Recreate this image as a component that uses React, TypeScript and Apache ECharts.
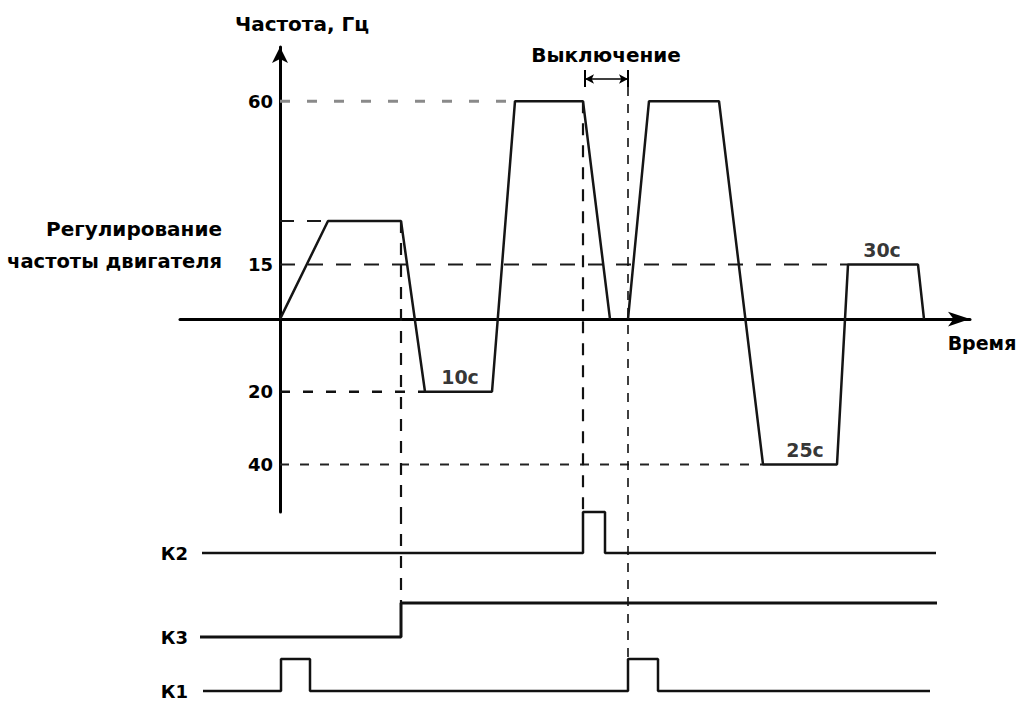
import React, { useEffect, useRef } from "react";
import * as echarts from "echarts";

// ---- Frequency profile (time in arbitrary units, frequency in Hz; negative = reverse) ----
const PROFILE_A_T = [0, 4.8, 12.1, 14.5, 21.2, 23.5, 30.3, 33.0];
const PROFILE_A_F = [0, 27, 27, -20, -20, 60, 60, 0];
const PROFILE_B_T = [34.8, 36.9, 43.9, 48.3, 55.7, 56.8, 63.8, 64.4];
const PROFILE_B_F = [0, 60, 60, -40, -40, 15, 15, 0];

// y tick labels (shown as magnitudes)
const Y_TICKS = [60, 15, -20, -40];

// plateau durations
const DURATION_LABELS = ["10с", "25с", "30с"];
const DURATION_T = [18.0, 52.5, 60.2];
const DURATION_F = [-20, -40, 15];

// horizontal reference levels and where they end
const H_LEVELS = [60, 27, 15, -20, -40];
const H_END_T = [23.5, 4.8, 56.8, 14.5, 48.3];

// vertical reference marks: time, starting frequency, signal row where they stop (-1 = none)
const V_T = [12.1, 30.3, 34.8];
const V_TOP_F = [27, 60, 63.9];
const V_STOP_ROW = [1, -1, 2];

// "Выключение" interval
const OFF_START_T = 30.5;
const OFF_END_T = 34.8;
const OFF_F = 66.1;

// ---- Relay signals ----
const SIGNAL_NAMES = ["К2", "К3", "К1"];
const K2_T = [-7.8, 30.3, 32.5, 65.6];
const K2_S = [0, 1, 0, 0];
const K3_T = [-8.0, 12.1, 65.7];
const K3_S = [0, 1, 1];
const K1_T = [-7.7, 0.1, 3.0, 34.8, 37.8, 65.0];
const K1_S = [0, 1, 0, 1, 0, 0];

// layout of signal rows inside the signal grid
const ROW_BASE = [14.9, 6.5, 1.1];
const ROW_AMP = [4.1, 3.4, 3.2];

const X_MIN = -10;
const X_MAX = 69;
const Y_MIN = -53.1;
const Y_MAX = 74.9;

const FONT = { fontFamily: "DejaVu Sans", fontWeight: "bold" as const, fontSize: 18, color: "#000" };

function zip(a: number[], b: number[]) {
  return a.map((v, i) => [v, b[i]]);
}

export default function App() {
  const ref = useRef<HTMLDivElement>(null);

  useEffect(() => {
    if (!ref.current) return;
    const chart = echarts.init(ref.current, undefined, { renderer: "svg" });

    const series: any[] = [];

    const hStyles = [
      { color: "#8a8a8a", width: 3, dash: [10, 17] },
      { color: "#1a1a1a", width: 2, dash: [14, 13] },
      { color: "#1a1a1a", width: 2, dash: [15, 13] },
      { color: "#111", width: 2.5, dash: [10, 13] },
      { color: "#222", width: 2, dash: [9, 11] },
    ];
    H_LEVELS.forEach((lv, i) => {
      series.push({
        type: "line",
        xAxisIndex: 0,
        yAxisIndex: 0,
        data: [[0, lv], [H_END_T[i], lv]],
        symbol: "none",
        clip: false,
        silent: true,
        z: 1,
        lineStyle: { color: hStyles[i].color, width: hStyles[i].width, type: hStyles[i].dash },
      });
    });

    const vStyles = [
      { width: 2.2, dash: [12, 10] },
      { width: 2.2, dash: [12, 10] },
      { width: 1.6, dash: [9, 8] },
    ];
    const signals = [zip(K2_T, K2_S), zip(K3_T, K3_S), zip(K1_T, K1_S)];
    V_T.forEach((t, i) => {
      series.push({
        type: "line",
        xAxisIndex: 0,
        yAxisIndex: 0,
        data: [[t, V_TOP_F[i]], [t, Y_MIN]],
        symbol: "none",
        clip: false,
        silent: true,
        z: 1,
        lineStyle: { color: "#111", width: vStyles[i].width, type: vStyles[i].dash },
      });
      const r = V_STOP_ROW[i];
      if (r >= 0) {
        series.push({
          type: "line",
          xAxisIndex: 1,
          yAxisIndex: 1,
          data: [[t, 19], [t, ROW_BASE[r] + ROW_AMP[r]]],
          symbol: "none",
          clip: false,
          silent: true,
          z: 1,
          lineStyle: { color: "#111", width: vStyles[i].width, type: vStyles[i].dash },
        });
      }
    });

    // Frequency profile
    [zip(PROFILE_A_T, PROFILE_A_F), zip(PROFILE_B_T, PROFILE_B_F)].forEach((d) => {
      series.push({
        type: "line",
        xAxisIndex: 0,
        yAxisIndex: 0,
        data: d,
        symbol: "none",
        clip: false,
        silent: true,
        z: 3,
        lineStyle: { color: "#151515", width: 2.5 },
      });
    });

    // Duration labels
    series.push({
      type: "scatter",
      xAxisIndex: 0,
      yAxisIndex: 0,
      symbolSize: 0,
      silent: true,
      data: DURATION_T.map((t, i) => ({
        value: [t, DURATION_F[i]],
        label: { formatter: DURATION_LABELS[i] },
      })),
      label: { show: true, position: "top", distance: 5, ...FONT, fontSize: 19, color: "#000" },
      z: 4,
    });

    // "Выключение" interval: end ticks + double arrow
    [OFF_START_T, OFF_END_T].forEach((t) => {
      series.push({
        type: "line",
        xAxisIndex: 0,
        yAxisIndex: 0,
        data: [[t, OFF_F + 2.5], [t, OFF_F - 2.2]],
        symbol: "none",
        clip: false,
        silent: true,
        lineStyle: { color: "#000", width: 2 },
      });
    });
    series.push({
      type: "line",
      xAxisIndex: 0,
      yAxisIndex: 0,
      data: [],
      silent: true,
      markLine: {
        silent: true,
        symbol: ["arrow", "arrow"],
        symbolSize: [7, 9],
        label: { show: false },
        lineStyle: { color: "#000", width: 1.5, type: "solid" },
        data: [[{ coord: [OFF_START_T, OFF_F] }, { coord: [OFF_END_T, OFF_F] }]],
      },
    });

    // Relay signals
    signals.forEach((d, r) => {
      series.push({
        type: "line",
        xAxisIndex: 1,
        yAxisIndex: 1,
        step: "end",
        data: d.map(([t, s]) => [t, ROW_BASE[r] + s * ROW_AMP[r]]),
        symbol: "none",
        clip: false,
        silent: true,
        z: 3,
        lineStyle: { color: "#111", width: r === 1 ? 3 : 2.5 },
      });
    });

    const textEl = (text: string, x: number, y: number, align: string, size: number) => ({
      type: "text",
      style: {
        text,
        x,
        y,
        align,
        verticalAlign: "middle",
        fontFamily: "DejaVu Sans",
        fontWeight: "bold",
        fontSize: size,
        fill: "#000",
      },
    });

    chart.setOption({
      animation: false,
      backgroundColor: "#fff",
      grid: [
        { left: 180, right: 49, top: 47, bottom: 190, containLabel: false, outerBoundsMode: "none" },
        { left: 180, right: 49, top: 512, bottom: 0, containLabel: false, outerBoundsMode: "none" },
      ],
      xAxis: [
        {
          type: "value",
          gridIndex: 0,
          min: X_MIN,
          max: X_MAX,
          axisLine: {
            show: true,
            onZero: true,
            symbol: ["none", "arrow"],
            symbolSize: [11, 22],
            lineStyle: { color: "#000", width: 3 },
          },
          axisTick: { show: false },
          axisLabel: { show: false },
          splitLine: { show: false },
        },
        { type: "value", gridIndex: 1, min: X_MIN, max: X_MAX, show: false },
      ],
      yAxis: [
        {
          type: "value",
          gridIndex: 0,
          min: Y_MIN,
          max: Y_MAX,
          offset: -100,
          axisLine: {
            show: true,
            onZero: false,
            symbol: ["none", "arrow"],
            symbolSize: [12, 16],
            lineStyle: { color: "#000", width: 3 },
          },
          axisTick: { show: false },
          splitLine: { show: false },
          axisLabel: {
            customValues: Y_TICKS,
            formatter: (v: number) => String(Math.abs(v)),
            margin: 7,
            ...FONT,
          },
        },
        {
          type: "value",
          gridIndex: 1,
          min: 0,
          max: 19,
          axisLine: { show: false, onZero: false },
          axisTick: { show: false },
          splitLine: { show: false },
          axisLabel: {
            customValues: ROW_BASE,
            formatter: (v: number) => {
              const i = ROW_BASE.findIndex((b) => Math.abs(b - v) < 1e-6);
              return i >= 0 ? SIGNAL_NAMES[i] : "";
            },
            margin: -8,
            ...FONT,
          },
        },
      ],
      graphic: [
        textEl("Частота, Гц", 302, 24, "center", 20),
        textEl("Выключение", 606, 55, "center", 20),
        textEl("Регулирование", 222, 229, "right", 20),
        textEl("частоты двигателя", 222, 261, "right", 19.5),
        textEl("Время", 982, 343, "center", 19),
      ],
      series,
    });

    return () => chart.dispose();
  }, []);

  return (
    <div
      ref={ref}
      style={{ position: "fixed", left: 0, top: 0, width: 1019, height: 702, background: "#fff" }}
    />
  );
}
